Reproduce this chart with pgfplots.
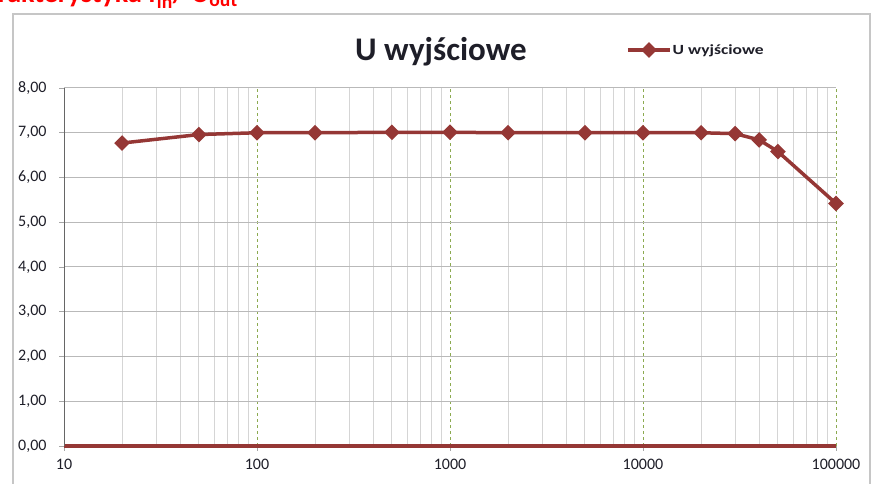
\documentclass[border=0pt]{standalone}
\usepackage{pgfplots}
\pgfplotsset{compat=1.18}
\usepackage{fontspec}
\setmainfont{Carlito}
\definecolor{ser}{RGB}{149,55,53}
\definecolor{grn}{RGB}{140,170,80}
\definecolor{txt}{RGB}{30,30,40}
\begin{document}
\begin{tikzpicture}[x=1pt,y=1pt]
\useasboundingbox (0,0) rectangle (875,484);
\draw[gray!45, line width=1.5pt] (13,-20) -- (13,470) -- (870,470) -- (870,-20);
\node[anchor=base east, text=red, font=\fontsize{28}{32}\selectfont\bfseries, inner sep=0pt] at (238,481) {Charakterystyka f\textsubscript{in}/ U\textsubscript{out}};
\begin{axis}[
  at={(64pt,38pt)}, anchor=south west,
  width=772pt, height=358pt, scale only axis,
  xmode=log, log basis x=10,
  xmin=10, xmax=100000, ymin=0, ymax=8,
  axis lines=left, axis line style={-},
  x axis line style={draw=ser, line width=3.5pt},
  y axis line style={draw=gray!80!black, line width=1pt},
  xtick={10,100,1000,10000,100000},
  xticklabels={10,100,1000,10000,100000},
  minor xtick={20,30,40,50,60,70,80,90,200,300,400,500,600,700,800,900,2000,3000,4000,5000,6000,7000,8000,9000,20000,30000,40000,50000,60000,70000,80000,90000},
  ytick={0,1,2,3,4,5,6,7,8},
  yticklabel={\pgfmathprintnumber[fixed,fixed zerofill,precision=2,use comma]{\tick}},
  /pgf/number format/assume math mode=true,
  tick align=outside, major tick length=5pt, minor tick length=0pt,
  tick style={gray!70, line width=0.8pt},
  xmajorgrids, xminorgrids, ymajorgrids,
  major x grid style={dashed, grn, line width=0.9pt},
  minor x grid style={gray!33, line width=1pt},
  major y grid style={gray!55, line width=1pt},
  ticklabel style={font=\fontsize{16}{19}\selectfont, text=txt},
  yticklabel style={xshift=-9pt},
  xticklabel style={yshift=-5pt},
  legend style={at={(0.728,1.106)}, anchor=west, draw=none, fill=none,
    font=\fontsize{14}{16}\selectfont\bfseries, text=txt, inner xsep=0pt,
    nodes={inner xsep=1pt}},
  legend image code/.code={\draw[#1] (0pt,0pt) -- (42pt,0pt); \draw[#1] plot coordinates {(21pt,0pt)};},
]
\addplot[ser, line width=3.5pt, mark=square*, mark size=3.8pt, mark options={solid, fill=ser, rotate=45}] coordinates {
(20,6.77) (50,6.96) (100,7.00) (200,7.00) (500,7.01) (1000,7.01) (2000,7.00)
(5000,7.00) (10000,7.00) (20000,7.00) (30000,6.98) (40000,6.84) (50000,6.58) (100000,5.42)};
\addlegendentry{\scalebox{1.25}[1]{U wyjściowe}}
\end{axis}
\node[anchor=base, font=\fontsize{33}{38}\selectfont\bfseries, text=txt, inner sep=0pt] at (441,423.3) {U wyjściowe};
\end{tikzpicture}
\end{document}
